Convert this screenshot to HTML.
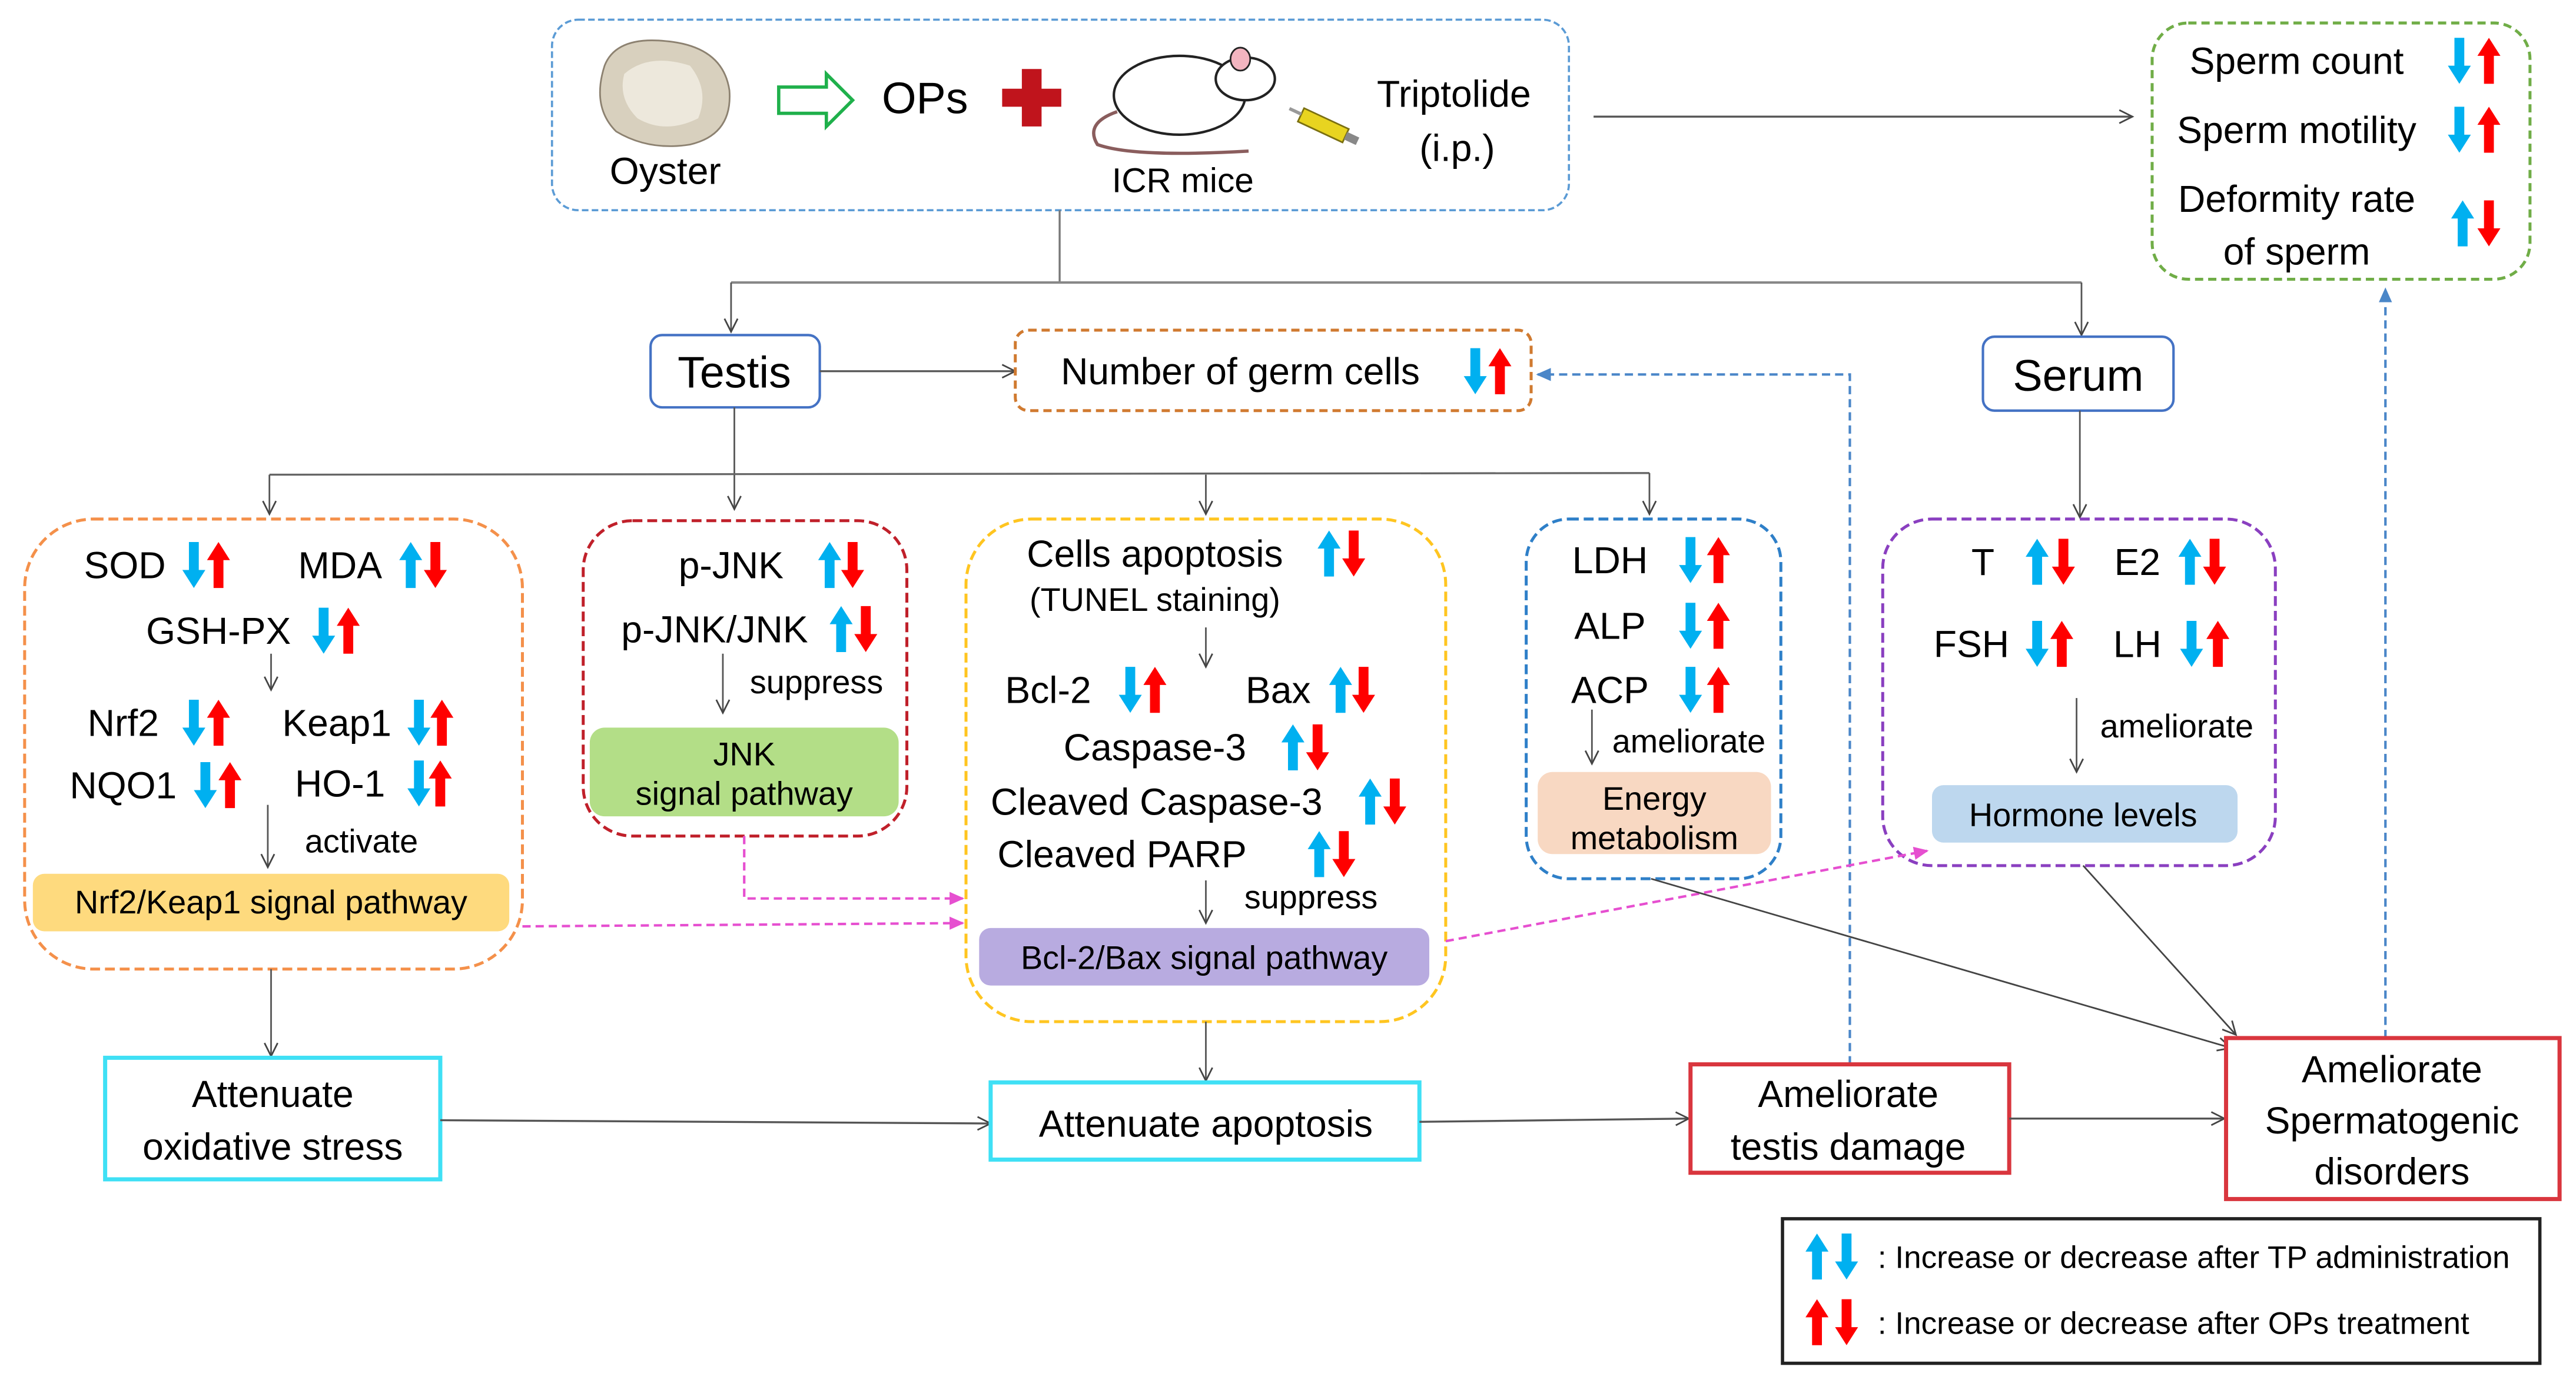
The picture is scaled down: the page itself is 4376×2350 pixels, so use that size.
<!DOCTYPE html>
<html><head><meta charset="utf-8"><style>
html,body{margin:0;padding:0;background:#fff;}
svg{display:block;}
text{font-family:"Liberation Sans",Arial,sans-serif;fill:#000;}
</style></head><body>
<svg width="4376" height="2350" viewBox="0 0 1568 842" preserveAspectRatio="none" xmlns="http://www.w3.org/2000/svg">
<defs>
<marker id="oa" markerWidth="10" markerHeight="10" refX="9" refY="5" orient="auto" markerUnits="userSpaceOnUse"><path d="M1,1 L9,5 L1,9" fill="none" stroke="#444" stroke-width="1"/></marker>
<marker id="pa" markerWidth="10" markerHeight="10" refX="8" refY="5" orient="auto" markerUnits="userSpaceOnUse"><path d="M0,1 L9,5 L0,9 Z" fill="#E64FD0"/></marker>
<marker id="ba" markerWidth="10" markerHeight="10" refX="8" refY="5" orient="auto" markerUnits="userSpaceOnUse"><path d="M0,1 L9,5 L0,9 Z" fill="#4A86C8"/></marker>
<symbol id="bu" overflow="visible"><path d="M-3,14 L-3,-3 L-7,-3 L0,-14 L7,-3 L3,-3 L3,14 Z" fill="#00B0F0"/></symbol>
<symbol id="bd" overflow="visible"><path d="M-3,-14 L-3,3 L-7,3 L0,14 L7,3 L3,3 L3,-14 Z" fill="#00B0F0"/></symbol>
<symbol id="ru" overflow="visible"><path d="M-3,14 L-3,-3 L-7,-3 L0,-14 L7,-3 L3,-3 L3,14 Z" fill="#FF0000"/></symbol>
<symbol id="rd" overflow="visible"><path d="M-3,-14 L-3,3 L-7,3 L0,14 L7,3 L3,3 L3,-14 Z" fill="#FF0000"/></symbol>
</defs>

<!-- top box -->
<rect x="336" y="12" width="619" height="116" rx="16" fill="none" stroke="#5B9BD5" stroke-width="1.3" stroke-dasharray="4,2"/>
<!-- oyster -->
<path d="M368,40 Q375,22 405,25 Q440,28 444,55 Q446,82 420,88 Q395,92 375,80 Q360,65 368,40 Z" fill="#D8D0BE" stroke="#8C8170" stroke-width="1"/>
<path d="M380,45 Q395,32 420,40 Q432,55 425,72 Q405,82 388,72 Q376,60 380,45 Z" fill="#EDE8DC"/>
<text x="405" y="112" font-size="23" text-anchor="middle">Oyster</text>
<!-- green hollow arrow -->
<path d="M474,53 L503,53 L503,45 L519,61 L503,77 L503,69 L474,69 Z" fill="none" stroke="#1FB04B" stroke-width="2"/>
<text x="563" y="69" font-size="27" text-anchor="middle">OPs</text>
<path d="M622,42 L634,42 L634,54 L646,54 L646,65 L634,65 L634,77 L622,77 L622,65 L610,65 L610,54 L622,54 Z" fill="#C0141C"/>
<!-- mouse -->
<ellipse cx="718" cy="58" rx="40" ry="24" fill="#fff" stroke="#222" stroke-width="1.5"/>
<ellipse cx="758" cy="48" rx="18" ry="13" fill="#fff" stroke="#222" stroke-width="1.5"/>
<ellipse cx="755" cy="36" rx="6" ry="7" fill="#F3B5C0" stroke="#222"/>
<path d="M680,68 Q660,75 668,88 Q690,96 760,92" fill="none" stroke="#8A5D5D" stroke-width="2"/>
<text x="720" y="117" font-size="21" text-anchor="middle">ICR mice</text>
<!-- syringe -->
<g transform="rotate(25 808 78)"><rect x="790" y="73" width="30" height="9" fill="#E8D420" stroke="#7A6F10"/><rect x="820" y="75" width="8" height="5" fill="#888"/><line x1="782" y1="77" x2="790" y2="77" stroke="#999" stroke-width="2"/></g>
<text x="885" y="65" font-size="23" text-anchor="middle">Triptolide</text>
<text x="887" y="98" font-size="23" text-anchor="middle">(i.p.)</text>

<line x1="970" y1="71" x2="1298" y2="71" stroke="#555" stroke-width="1.2" marker-end="url(#oa)"/>

<!-- sperm box -->
<rect x="1310" y="14" width="230" height="156" rx="22" fill="none" stroke="#70AD47" stroke-width="1.8" stroke-dasharray="5,3"/>
<text x="1398" y="45" font-size="23" text-anchor="middle">Sperm count</text>
<text x="1398" y="87" font-size="23" text-anchor="middle">Sperm motility</text>
<text x="1398" y="129" font-size="23" text-anchor="middle">Deformity rate</text>
<text x="1398" y="161" font-size="23" text-anchor="middle">of sperm</text>
<use href="#bd" x="1497" y="37"/><use href="#ru" x="1515" y="37"/>
<use href="#bd" x="1497" y="79"/><use href="#ru" x="1515" y="79"/>
<use href="#bu" x="1499" y="136"/><use href="#rd" x="1515" y="136"/>

<!-- tree lines -->
<line x1="645" y1="128" x2="645" y2="172" stroke="#777" stroke-width="1.2"/>
<line x1="445" y1="172" x2="1267" y2="172" stroke="#888" stroke-width="1.5"/>
<line x1="445" y1="172" x2="445" y2="202" stroke="#555" stroke-width="1" marker-end="url(#oa)"/>
<line x1="1267" y1="172" x2="1267" y2="204" stroke="#555" stroke-width="1" marker-end="url(#oa)"/>

<!-- Testis -->
<rect x="396" y="204" width="103" height="44" rx="7" fill="#fff" stroke="#4472C4" stroke-width="1.5"/>
<text x="447" y="236" font-size="27" text-anchor="middle">Testis</text>
<line x1="499" y1="226" x2="618" y2="226" stroke="#555" stroke-width="1.2" marker-end="url(#oa)"/>
<!-- germ cells -->
<rect x="618" y="201" width="314" height="49" rx="8" fill="none" stroke="#D07A30" stroke-width="1.8" stroke-dasharray="5,3"/>
<text x="755" y="234" font-size="23" text-anchor="middle">Number of germ cells</text>
<use href="#bd" x="898" y="226"/><use href="#ru" x="913" y="226"/>
<!-- Serum -->
<rect x="1207" y="205" width="116" height="45" rx="7" fill="#fff" stroke="#4472C4" stroke-width="1.5"/>
<text x="1265" y="238" font-size="27" text-anchor="middle">Serum</text>
<line x1="1266" y1="250" x2="1266" y2="315" stroke="#555" stroke-width="1" marker-end="url(#oa)"/>

<!-- blue dashed feedback -->
<polyline points="1126,648 1126,228 936,228" fill="none" stroke="#4A86C8" stroke-width="1.5" stroke-dasharray="5,3" marker-end="url(#ba)"/>
<line x1="1452" y1="632" x2="1452" y2="176" stroke="#4A86C8" stroke-width="1.5" stroke-dasharray="5,3" marker-end="url(#ba)"/>

<line x1="447" y1="248" x2="447" y2="310" stroke="#555" stroke-width="1" marker-end="url(#oa)"/>
<line x1="164" y1="289" x2="1004" y2="288" stroke="#666" stroke-width="1.2"/>
<line x1="164" y1="289" x2="164" y2="313" stroke="#555" stroke-width="1" marker-end="url(#oa)"/>
<line x1="734" y1="289" x2="734" y2="313" stroke="#555" stroke-width="1" marker-end="url(#oa)"/>
<line x1="1004" y1="288" x2="1004" y2="313" stroke="#555" stroke-width="1" marker-end="url(#oa)"/>

<!-- box1 -->
<rect x="15" y="316" width="303" height="274" rx="42" fill="none" stroke="#F4904A" stroke-width="1.8" stroke-dasharray="6,3"/>
<text x="76" y="352" font-size="23" text-anchor="middle">SOD</text>
<use href="#bd" x="118" y="344"/><use href="#ru" x="133" y="344"/>
<text x="207" y="352" font-size="23" text-anchor="middle">MDA</text>
<use href="#bu" x="250" y="344"/><use href="#rd" x="265" y="344"/>
<text x="133" y="392" font-size="23" text-anchor="middle">GSH-PX</text>
<use href="#bd" x="197" y="384"/><use href="#ru" x="212" y="384"/>
<line x1="165" y1="398" x2="165" y2="420" stroke="#555" stroke-width="1" marker-end="url(#oa)"/>
<text x="75" y="448" font-size="23" text-anchor="middle">Nrf2</text>
<use href="#bd" x="118" y="440"/><use href="#ru" x="133" y="440"/>
<text x="205" y="448" font-size="23" text-anchor="middle">Keap1</text>
<use href="#bd" x="255" y="440"/><use href="#ru" x="269" y="440"/>
<text x="75" y="486" font-size="23" text-anchor="middle">NQO1</text>
<use href="#bd" x="125" y="478"/><use href="#ru" x="140" y="478"/>
<text x="207" y="485" font-size="23" text-anchor="middle">HO-1</text>
<use href="#bd" x="255" y="477"/><use href="#ru" x="268" y="477"/>
<line x1="163" y1="490" x2="163" y2="528" stroke="#555" stroke-width="1" marker-end="url(#oa)"/>
<text x="220" y="519" font-size="20" text-anchor="middle">activate</text>
<rect x="20" y="532" width="290" height="35" rx="7" fill="#FEDA7E"/>
<text x="165" y="556" font-size="20" text-anchor="middle">Nrf2/Keap1 signal pathway</text>

<!-- box2 -->
<rect x="355" y="317" width="197" height="192" rx="30" fill="none" stroke="#C0202A" stroke-width="1.8" stroke-dasharray="6,3"/>
<text x="445" y="352" font-size="23" text-anchor="middle">p-JNK</text>
<use href="#bu" x="505" y="344"/><use href="#rd" x="519" y="344"/>
<text x="435" y="391" font-size="23" text-anchor="middle">p-JNK/JNK</text>
<use href="#bu" x="512" y="383"/><use href="#rd" x="527" y="383"/>
<line x1="440" y1="398" x2="440" y2="434" stroke="#555" stroke-width="1" marker-end="url(#oa)"/>
<text x="497" y="422" font-size="20" text-anchor="middle">suppress</text>
<rect x="359" y="443" width="188" height="54" rx="9" fill="#B3DE87"/>
<text x="453" y="466" font-size="20" text-anchor="middle">JNK</text>
<text x="453" y="490" font-size="20" text-anchor="middle">signal pathway</text>

<polyline points="453,509 453,547 586,547" fill="none" stroke="#E64FD0" stroke-width="1.5" stroke-dasharray="5,3" marker-end="url(#pa)"/>
<line x1="318" y1="564" x2="586" y2="562" stroke="#E64FD0" stroke-width="1.5" stroke-dasharray="5,3" marker-end="url(#pa)"/>

<!-- box3 -->
<rect x="588" y="316" width="292" height="306" rx="40" fill="none" stroke="#FFC520" stroke-width="1.8" stroke-dasharray="6,3"/>
<text x="703" y="345" font-size="23" text-anchor="middle">Cells apoptosis</text>
<use href="#bu" x="809" y="337"/><use href="#rd" x="824" y="337"/>
<text x="703" y="372" font-size="20" text-anchor="middle">(TUNEL staining)</text>
<line x1="734" y1="382" x2="734" y2="406" stroke="#555" stroke-width="1" marker-end="url(#oa)"/>
<text x="638" y="428" font-size="23" text-anchor="middle">Bcl-2</text>
<use href="#bd" x="688" y="420"/><use href="#ru" x="703" y="420"/>
<text x="778" y="428" font-size="23" text-anchor="middle">Bax</text>
<use href="#bu" x="816" y="420"/><use href="#rd" x="830" y="420"/>
<text x="703" y="463" font-size="23" text-anchor="middle">Caspase-3</text>
<use href="#bu" x="787" y="455"/><use href="#rd" x="802" y="455"/>
<text x="704" y="496" font-size="23" text-anchor="middle">Cleaved Caspase-3</text>
<use href="#bu" x="834" y="488"/><use href="#rd" x="849" y="488"/>
<text x="683" y="528" font-size="23" text-anchor="middle">Cleaved PARP</text>
<use href="#bu" x="803" y="520"/><use href="#rd" x="818" y="520"/>
<line x1="734" y1="536" x2="734" y2="562" stroke="#555" stroke-width="1" marker-end="url(#oa)"/>
<text x="798" y="553" font-size="20" text-anchor="middle">suppress</text>
<rect x="596" y="565" width="274" height="35" rx="7" fill="#B8ABE0"/>
<text x="733" y="590" font-size="20" text-anchor="middle">Bcl-2/Bax signal pathway</text>

<!-- box4 -->
<rect x="929" y="316" width="155" height="219" rx="26" fill="none" stroke="#2E7FC8" stroke-width="1.8" stroke-dasharray="6,3"/>
<text x="980" y="349" font-size="23" text-anchor="middle">LDH</text>
<use href="#bd" x="1029" y="341"/><use href="#ru" x="1046" y="341"/>
<text x="980" y="389" font-size="23" text-anchor="middle">ALP</text>
<use href="#bd" x="1029" y="381"/><use href="#ru" x="1046" y="381"/>
<text x="980" y="428" font-size="23" text-anchor="middle">ACP</text>
<use href="#bd" x="1029" y="420"/><use href="#ru" x="1046" y="420"/>
<line x1="969" y1="432" x2="969" y2="465" stroke="#555" stroke-width="1" marker-end="url(#oa)"/>
<text x="1028" y="458" font-size="20" text-anchor="middle">ameliorate</text>
<rect x="936" y="470" width="142" height="50" rx="9" fill="#F8D8C2"/>
<text x="1007" y="493" font-size="20" text-anchor="middle">Energy</text>
<text x="1007" y="517" font-size="20" text-anchor="middle">metabolism</text>

<!-- box5 -->
<rect x="1146" y="316" width="239" height="211" rx="30" fill="none" stroke="#8A3FC0" stroke-width="1.8" stroke-dasharray="6,3"/>
<text x="1207" y="350" font-size="23" text-anchor="middle">T</text>
<use href="#bu" x="1240" y="342"/><use href="#rd" x="1256" y="342"/>
<text x="1301" y="350" font-size="23" text-anchor="middle">E2</text>
<use href="#bu" x="1333" y="342"/><use href="#rd" x="1348" y="342"/>
<text x="1200" y="400" font-size="23" text-anchor="middle">FSH</text>
<use href="#bd" x="1240" y="392"/><use href="#ru" x="1255" y="392"/>
<text x="1301" y="400" font-size="23" text-anchor="middle">LH</text>
<use href="#bd" x="1334" y="392"/><use href="#ru" x="1350" y="392"/>
<line x1="1264" y1="425" x2="1264" y2="470" stroke="#555" stroke-width="1" marker-end="url(#oa)"/>
<text x="1325" y="449" font-size="20" text-anchor="middle">ameliorate</text>
<rect x="1176" y="478" width="186" height="35" rx="7" fill="#BDD7EE"/>
<text x="1268" y="503" font-size="20" text-anchor="middle">Hormone levels</text>

<line x1="880" y1="573" x2="1173" y2="518" stroke="#E64FD0" stroke-width="1.5" stroke-dasharray="5,3" marker-end="url(#pa)"/>
<line x1="1005" y1="535" x2="1358" y2="638" stroke="#444" stroke-width="1" marker-end="url(#oa)"/>
<line x1="1268" y1="527" x2="1361" y2="630" stroke="#444" stroke-width="1" marker-end="url(#oa)"/>

<line x1="734" y1="622" x2="734" y2="658" stroke="#555" stroke-width="1" marker-end="url(#oa)"/>
<line x1="165" y1="590" x2="165" y2="643" stroke="#555" stroke-width="1" marker-end="url(#oa)"/>

<!-- bottom boxes -->
<rect x="64" y="644" width="204" height="74" fill="#fff" stroke="#3FE0F5" stroke-width="2.5"/>
<text x="166" y="674" font-size="23" text-anchor="middle">Attenuate</text>
<text x="166" y="706" font-size="23" text-anchor="middle">oxidative stress</text>
<line x1="268" y1="682" x2="603" y2="684" stroke="#555" stroke-width="1.2" marker-end="url(#oa)"/>
<rect x="603" y="659" width="261" height="47" fill="#fff" stroke="#3FE0F5" stroke-width="2.5"/>
<text x="734" y="692" font-size="23" text-anchor="middle">Attenuate apoptosis</text>
<line x1="864" y1="683" x2="1028" y2="681" stroke="#555" stroke-width="1.2" marker-end="url(#oa)"/>
<rect x="1029" y="648" width="194" height="66" fill="#fff" stroke="#D9363E" stroke-width="2.5"/>
<text x="1125" y="674" font-size="23" text-anchor="middle">Ameliorate</text>
<text x="1125" y="706" font-size="23" text-anchor="middle">testis damage</text>
<line x1="1223" y1="681" x2="1354" y2="681" stroke="#555" stroke-width="1.2" marker-end="url(#oa)"/>
<rect x="1355" y="632" width="203" height="98" fill="#fff" stroke="#D9363E" stroke-width="2.5"/>
<text x="1456" y="659" font-size="23" text-anchor="middle">Ameliorate</text>
<text x="1456" y="690" font-size="23" text-anchor="middle">Spermatogenic</text>
<text x="1456" y="721" font-size="23" text-anchor="middle">disorders</text>

<!-- legend -->
<rect x="1085" y="742" width="461" height="88" fill="#fff" stroke="#222" stroke-width="2"/>
<use href="#bu" x="1106" y="765"/><use href="#bd" x="1124" y="765"/>
<use href="#ru" x="1106" y="805"/><use href="#rd" x="1124" y="805"/>
<text x="1143" y="772" font-size="19">: Increase or decrease after TP administration</text>
<text x="1143" y="812" font-size="19">: Increase or decrease after OPs treatment</text>
</svg>
</body></html>
